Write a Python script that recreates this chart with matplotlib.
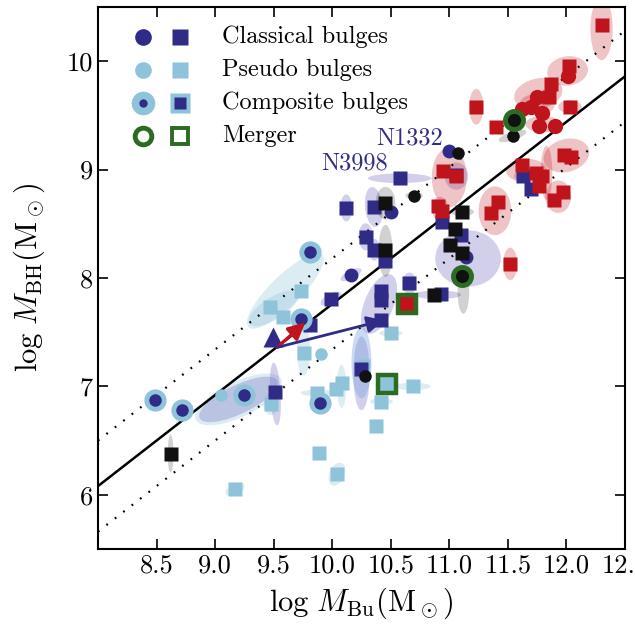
import numpy as np
import matplotlib.pyplot as plt
from matplotlib.patches import Ellipse

plt.rcParams['font.family'] = 'cmr10'
plt.rcParams['mathtext.fontset'] = 'cm'
plt.rcParams['axes.unicode_minus'] = False

# Couleurs
bleu = '#2f2b87'
bleu_clair = '#8ec3d9'
rouge = '#c0141d'
noir = '#111111'
vert = '#2c6b22'

# Relation ajustée : log MBH = a + b (log MBu - 11), dispersion +/- s
a_rel = 8.60
b_rel = 0.84
s_rel = 0.42

# Bulbes classiques (ronds / carrés)
cl_ronds_x = [10.16, 10.50, 11.00, 11.14]
cl_ronds_y = [8.03, 8.61, 9.17, 8.19]
cl_carres_x = [9.515, 9.99, 9.81, 10.12, 10.355, 10.285, 10.355, 10.447, 10.42, 10.42,
               10.66, 10.575, 10.93, 10.42, 10.94, 11.06, 11.10, 11.626, 11.70, 10.25]
cl_carres_y = [6.95, 7.81, 7.57, 8.646, 8.655, 8.38, 8.26, 8.155, 7.88, 7.80,
               7.95, 8.92, 7.85, 7.61, 8.52, 8.95, 8.40, 8.94, 8.82, 7.16]

# Pseudo-bulbes
ps_ronds_x = [9.05, 9.907]
ps_ronds_y = [6.92, 7.296]
ps_carres_x = [9.17, 9.73, 9.47, 9.58, 9.756, 9.475, 9.87, 10.03, 10.08, 10.26,
               10.69, 10.42, 10.37, 10.04, 10.50, 9.89]
ps_carres_y = [6.05, 7.88, 7.735, 7.64, 7.31, 6.835, 6.94, 6.98, 7.03, 7.19,
               7.00, 6.86, 6.63, 6.19, 7.49, 6.39]

# Bulbes composites
co_ronds_x = [8.49, 8.72, 9.245, 9.81, 9.73, 9.90]
co_ronds_y = [6.87, 6.78, 6.92, 8.24, 7.62, 6.845]

# Elliptiques (rouge) et autres (noir)
ro_ronds_x = [12.01, 11.745, 11.70, 11.62, 11.79, 11.77, 11.90]
ro_ronds_y = [9.865, 9.665, 9.58, 9.56, 9.52, 9.40, 9.40]
ro_carres_x = [12.30, 12.02, 11.87, 11.85, 12.03, 11.23, 11.40, 10.95, 11.06, 10.90,
               10.94, 11.36, 11.42, 11.52, 11.62, 11.74, 11.79, 11.77, 11.98, 12.04,
               11.89, 11.97]
ro_carres_y = [10.33, 9.96, 9.79, 9.67, 9.58, 9.58, 9.39, 8.99, 8.94, 8.66,
               8.615, 8.60, 8.70, 8.13, 9.045, 8.97, 8.94, 8.85, 9.13, 9.12,
               8.72, 8.79]
no_ronds_x = [10.70, 11.07, 11.54, 10.276]
no_ronds_y = [8.76, 9.15, 9.31, 7.10]
no_carres_x = [8.62, 10.455, 10.455, 10.87, 11.11, 11.05, 11.01, 11.11]
no_carres_y = [6.38, 8.69, 8.256, 7.84, 8.61, 8.45, 8.30, 8.23]

# Fusions
fu_ronds_x = [11.11, 11.55]
fu_ronds_y = [8.02, 9.46]
fu_carres_x = [10.64, 10.47]
fu_carres_y = [7.756, 7.02]
fu_carres_fond = [rouge, bleu_clair]

# Triangle et flèches (N1332 / N3998)
tri_x, tri_y = 9.495, 7.46
fl_depart = (9.53, 7.36)
fl_rouge = (9.77, 7.59)
fl_bleue = (10.44, 7.61)

# Ellipses d'erreur : x, y, largeur, hauteur, angle
ell_violet = [(9.20, 6.88, 0.75, 0.26, 28), (9.515, 6.93, 0.09, 0.58, 3), (9.99, 7.81, 0.2, 0.09, 30),
              (10.16, 8.03, 0.2, 0.08, 30), (10.12, 8.646, 0.1, 0.25, 0), (10.355, 8.655, 0.15, 0.37, 5),
              (10.285, 8.38, 0.12, 0.25, 0), (10.36, 8.26, 0.1, 0.2, 0), (10.40, 7.76, 0.25, 0.58, -20),
              (10.66, 7.95, 0.12, 0.2, 0), (10.575, 8.92, 0.54, 0.09, 0), (10.90, 7.845, 0.4, 0.08, 0),
              (11.06, 8.94, 0.2, 0.25, 0), (11.16, 8.18, 0.56, 0.52, 0), (11.626, 8.94, 0.15, 0.1, 0),
              (10.25, 7.12, 0.14, 0.68, 0)]
ell_bleu = [(10.25, 7.22, 0.17, 0.66, 0)]
ell_bleu_clair = [(9.60, 7.88, 0.92, 0.27, 47), (9.50, 7.72, 0.5, 0.2, 35), (9.756, 7.33, 0.11, 0.46, 0),
                  (9.475, 6.835, 0.12, 0.2, 0), (9.87, 6.94, 0.28, 0.06, 0), (10.08, 7.0, 0.08, 0.4, 0),
                  (10.69, 7.0, 0.3, 0.07, 0), (10.42, 6.86, 0.2, 0.06, 0), (10.37, 6.63, 0.08, 0.05, 0),
                  (10.04, 6.19, 0.13, 0.22, -20), (10.50, 7.49, 0.2, 0.06, 0), (9.17, 6.05, 0.18, 0.1, 30),
                  (9.20, 6.88, 0.82, 0.32, 28)]
ell_rouge = [(12.30, 10.30, 0.19, 0.58, 0), (12.01, 9.91, 0.35, 0.27, 10), (11.76, 9.70, 0.42, 0.28, 15),
             (11.75, 9.60, 0.3, 0.2, 0), (12.03, 9.58, 0.2, 0.12, 0), (11.23, 9.58, 0.12, 0.33, 0),
             (11.80, 9.42, 0.3, 0.15, 0), (11.00, 8.93, 0.3, 0.55, 0), (10.92, 8.64, 0.14, 0.22, 0),
             (11.39, 8.62, 0.28, 0.45, 0), (11.52, 8.13, 0.12, 0.3, 0), (11.66, 8.99, 0.35, 0.22, 0),
             (11.83, 8.97, 0.1, 0.5, 0), (12.0, 9.13, 0.4, 0.3, 20), (11.93, 8.75, 0.22, 0.3, 0)]
ell_gris = [(8.62, 6.38, 0.05, 0.35, 0), (10.455, 8.69, 0.17, 0.3, 0), (10.455, 8.25, 0.12, 0.48, 0),
            (10.70, 8.76, 0.15, 0.07, 0), (11.07, 9.15, 0.12, 0.06, 0), (11.54, 9.31, 0.25, 0.08, 20),
            (11.11, 8.61, 0.2, 0.08, 0), (11.12, 7.88, 0.1, 0.42, 0), (10.87, 7.84, 0.08, 0.12, 0)]
ell_vert = [(11.55, 9.46, 0.16, 0.12, 0), (10.64, 7.76, 0.18, 0.08, 0), (10.47, 7.02, 0.2, 0.06, 0)]

x_ticks = [8.5, 9.0, 9.5, 10.0, 10.5, 11.0, 11.5, 12.0, 12.5]
y_ticks = [6, 7, 8, 9, 10]


def tracer_ellipses(ax, liste, couleur, alpha):
    for (x, y, w, h, ang) in liste:
        ax.add_patch(Ellipse((x, y), w, h, angle=ang, facecolor=couleur, edgecolor='none',
                             alpha=alpha, zorder=1))


fig = plt.figure(figsize=(6.35, 6.29), dpi=100)
ax = fig.add_axes([0.1543, 0.1272, 0.8299, 0.8617])

# Ellipses
tracer_ellipses(ax, ell_bleu_clair, bleu_clair, 0.3)
tracer_ellipses(ax, ell_violet, '#7f77c7', 0.35)
tracer_ellipses(ax, ell_bleu, '#7ba3e0', 0.4)
tracer_ellipses(ax, ell_rouge, rouge, 0.25)
tracer_ellipses(ax, ell_gris, 'black', 0.18)
tracer_ellipses(ax, ell_vert, '#7cc46a', 0.3)

# Relation et dispersion
xr = np.array([8.0, 12.5])
yr = a_rel + b_rel * (xr - 11)
ax.plot(xr, yr, color='black', lw=1.8, zorder=2)
ax.plot(xr, yr + s_rel, color='black', lw=1.6, ls=(0, (0.8, 4)), zorder=2)
ax.plot(xr, yr - s_rel, color='black', lw=1.6, ls=(0, (0.8, 4)), zorder=2)

# Points
kw = dict(ls='none', mec='none', zorder=4)
ax.plot(ps_carres_x, ps_carres_y, 's', color=bleu_clair, ms=10, **kw)
ax.plot(ps_ronds_x, ps_ronds_y, 'o', color=bleu_clair, ms=9, **kw)
ax.plot(cl_carres_x, cl_carres_y, 's', color=bleu, ms=10, **kw)
ax.plot(cl_ronds_x, cl_ronds_y, 'o', color=bleu, ms=10, **kw)
ax.plot(co_ronds_x, co_ronds_y, 'o', color=bleu_clair, ms=16, **kw)
ax.plot(co_ronds_x, co_ronds_y, 'o', color=bleu, ms=9, **kw)
ax.plot(ro_carres_x, ro_carres_y, 's', color=rouge, ms=10, **kw)
ax.plot(ro_ronds_x, ro_ronds_y, 'o', color=rouge, ms=11, **kw)
ax.plot(no_carres_x, no_carres_y, 's', color=noir, ms=10, **kw)
ax.plot(no_ronds_x, no_ronds_y, 'o', color=noir, ms=9, **kw)
ax.plot(fu_ronds_x, fu_ronds_y, 'o', color=noir, ms=13, mec=vert, mew=3.5, ls='none', zorder=5)
for xf, yf, cf in zip(fu_carres_x, fu_carres_y, fu_carres_fond):
    ax.plot(xf, yf, 's', color=cf, ms=13, mec=vert, mew=3.2, ls='none', zorder=5)

# Triangle et flèches
ax.plot(tri_x, tri_y, '^', color=bleu, ms=15, mec='none', zorder=5)
ax.annotate('', xy=fl_rouge, xytext=fl_depart, zorder=6,
            arrowprops=dict(arrowstyle='-|>,head_length=1.0,head_width=0.5', color=rouge, lw=2.4,
                            shrinkA=0, shrinkB=0))
ax.annotate('', xy=fl_bleue, xytext=fl_depart, zorder=6,
            arrowprops=dict(arrowstyle='-|>,head_length=1.0,head_width=0.5', color=bleu, lw=2.0,
                            shrinkA=0, shrinkB=0))
ax.text(10.38, 9.29, 'N1332', color=bleu, fontsize=17.5, va='center', ha='left', zorder=6)
ax.text(9.91, 9.06, 'N3998', color=bleu, fontsize=17.5, va='center', ha='left', zorder=6)

# Légende dessinée à la main
lx1, lx2, lxt = 0.0854, 0.1556, 0.2353
ly = [0.9446, 0.8838, 0.8229, 0.762]
tr = ax.transAxes
ax.plot(lx1, ly[0], 'o', color=bleu, ms=12, mec='none', transform=tr)
ax.plot(lx2, ly[0], 's', color=bleu, ms=12, mec='none', transform=tr)
ax.plot(lx1, ly[1], 'o', color=bleu_clair, ms=12, mec='none', transform=tr)
ax.plot(lx2, ly[1], 's', color=bleu_clair, ms=12, mec='none', transform=tr)
ax.plot(lx1, ly[2], 'o', color=bleu_clair, ms=17, mec='none', transform=tr)
ax.plot(lx1, ly[2], 'o', color=bleu, ms=6, mec='none', transform=tr)
ax.plot(lx2, ly[2], 's', color=bleu_clair, ms=15, mec='none', transform=tr)
ax.plot(lx2, ly[2], 's', color=bleu, ms=8, mec='none', transform=tr)
ax.plot(lx1, ly[3], 'o', color='white', ms=12, mec=vert, mew=3.5, transform=tr)
ax.plot(lx2, ly[3], 's', color='white', ms=12, mec=vert, mew=2.8, transform=tr)
for yy, txt in zip(ly, ['Classical bulges', 'Pseudo bulges', 'Composite bulges', 'Merger']):
    ax.text(lxt, yy, txt, transform=tr, fontsize=17.5, va='center', ha='left')

ax.set_xlim(8.0, 12.5)
ax.set_ylim(5.5, 10.5)
ax.set_xticks(x_ticks)
ax.set_xticklabels([f'{v:.1f}' for v in x_ticks])
ax.set_yticks(y_ticks)
ax.set_yticklabels([str(v) for v in y_ticks])
ax.tick_params(direction='in', length=7, width=1.2, labelsize=19, top=True, right=True,
               labeltop=False, labelright=False)
for sp in ax.spines.values():
    sp.set_linewidth(1.5)
ax.set_xlabel(r'$\log\,M_{\rm Bu}(\rm M_\odot)$', fontsize=22, labelpad=6)
ax.set_ylabel(r'$\log\,M_{\rm BH}(\rm M_\odot)$', fontsize=22, labelpad=14)

fig.savefig('out.png', dpi=100)
